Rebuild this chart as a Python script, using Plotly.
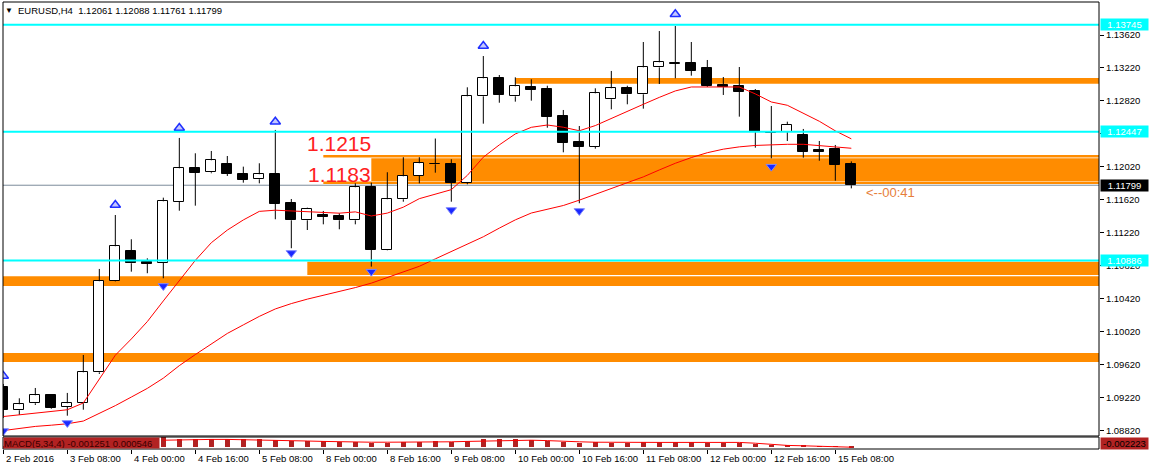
import plotly.graph_objects as go

# ---------------- data ----------------
bars = list(range(54))
tick_bars = [0, 4, 8, 12, 16, 20, 24, 28, 32, 36, 40, 44, 48, 52]
tick_text = ["2 Feb 2016", "3 Feb 08:00", "4 Feb 00:00", "4 Feb 16:00", "5 Feb 08:00",
             "8 Feb 00:00", "8 Feb 16:00", "9 Feb 08:00", "10 Feb 00:00", "10 Feb 16:00",
             "11 Feb 08:00", "12 Feb 00:00", "12 Feb 16:00", "15 Feb 08:00"]

opens = [1.09359, 1.09071, 1.09156, 1.09253, 1.09111, 1.09156, 1.09531, 1.10635, 1.11002, 1.10869,
         1.10860, 1.11599, 1.12004, 1.11956, 1.12056, 1.11932, 1.11871, 1.11932, 1.11580, 1.11374,
         1.11438, 1.11426, 1.11374, 1.11774, 1.11018, 1.11629, 1.11911, 1.12062, 1.12053, 1.11830,
         1.12877, 1.13095, 1.12877, 1.12990, 1.12965, 1.12638, 1.12323, 1.12266, 1.12841, 1.12974,
         1.12901, 1.13228, 1.13272, 1.13281, 1.13220, 1.13014, 1.13002, 1.12941, 1.12450, 1.12448,
         1.12408, 1.12226, 1.12238, 1.12061]
highs = [1.09390, 1.09216, 1.09341, 1.09265, 1.09281, 1.09741, 1.10784, 1.11438, 1.11144, 1.10913,
         1.11648, 1.12372, 1.12186, 1.12214, 1.12153, 1.12024, 1.12065, 1.12469, 1.11632, 1.11527,
         1.11487, 1.11459, 1.11822, 1.11830, 1.11956, 1.12138, 1.12138, 1.12365, 1.12113, 1.12986,
         1.13365, 1.13135, 1.13107, 1.13083, 1.13005, 1.12711, 1.12517, 1.12974, 1.13184, 1.13005,
         1.13535, 1.13668, 1.13729, 1.13535, 1.13317, 1.13111, 1.13232, 1.12965, 1.12759, 1.12569,
         1.12481, 1.12335, 1.12287, 1.12088]
lows = [1.08978, 1.09014, 1.09135, 1.09090, 1.09005, 1.09078, 1.09511, 1.10630, 1.10751, 1.10732,
        1.10671, 1.11490, 1.11551, 1.11944, 1.11911, 1.11830, 1.11822, 1.11386, 1.11035, 1.11256,
        1.11325, 1.11265, 1.11325, 1.10812, 1.11010, 1.11599, 1.11822, 1.11951, 1.11599, 1.11810,
        1.12545, 1.12799, 1.12812, 1.12824, 1.12496, 1.12198, 1.11580, 1.12242, 1.12719, 1.12780,
        1.12727, 1.13026, 1.13095, 1.13127, 1.12990, 1.12893, 1.12630, 1.12254, 1.12125, 1.12335,
        1.12133, 1.12096, 1.11854, 1.11761]
closes = [1.09075, 1.09144, 1.09253, 1.09102, 1.09156, 1.09531, 1.10635, 1.11059, 1.10853, 1.10848,
          1.11604, 1.12004, 1.11951, 1.12101, 1.11939, 1.11866, 1.11932, 1.11575, 1.11374, 1.11511,
          1.11414, 1.11374, 1.11774, 1.11018, 1.11629, 1.11907, 1.12065, 1.12053, 1.11830, 1.12877,
          1.13095, 1.12896, 1.12998, 1.12957, 1.12630, 1.12315, 1.12266, 1.12913, 1.12974, 1.12901,
          1.13228, 1.13289, 1.13281, 1.13187, 1.13005, 1.12990, 1.12933, 1.12448, 1.12432, 1.12529,
          1.12205, 1.12205, 1.12048, 1.11799]

ma_fast = [1.08995, 1.09015, 1.09037, 1.09055, 1.09077, 1.09159, 1.09448, 1.09738, 1.09935, 1.10146,
           1.10396, 1.10641, 1.10888, 1.11102, 1.11255, 1.11378, 1.11482, 1.11496, 1.11487, 1.11475,
           1.11466, 1.11460, 1.11476, 1.11426, 1.11461, 1.11533, 1.11636, 1.11688, 1.11745, 1.11918,
           1.12139, 1.12288, 1.12421, 1.12501, 1.12529, 1.12502, 1.12459, 1.12522, 1.12610, 1.12698,
           1.12780, 1.12864, 1.12942, 1.12990, 1.12990, 1.12990, 1.12990, 1.12906, 1.12808, 1.12768,
           1.12671, 1.12574, 1.12458, 1.12361]
ma_slow = [1.08825, 1.08850, 1.08875, 1.08890, 1.08907, 1.08940, 1.09031, 1.09127, 1.09231, 1.09336,
           1.09460, 1.09612, 1.09746, 1.09879, 1.10002, 1.10106, 1.10209, 1.10299, 1.10364, 1.10418,
           1.10462, 1.10506, 1.10558, 1.10612, 1.10677, 1.10746, 1.10816, 1.10906, 1.10995, 1.11084,
           1.11174, 1.11279, 1.11379, 1.11462, 1.11512, 1.11553, 1.11618, 1.11690, 1.11759, 1.11825,
           1.11900, 1.11984, 1.12065, 1.12134, 1.12193, 1.12236, 1.12264, 1.12281, 1.12290, 1.12295,
           1.12295, 1.12282, 1.12261, 1.12247]

macd_hist = [-0.0004, -0.0004, -0.0003, -0.0003, -0.0002, 0.0002, 0.0012, 0.0020, 0.0022, 0.0021,
             0.0023, 0.0019, 0.0020, 0.0020, 0.0019, 0.0018, 0.0018, 0.0017, 0.0015, 0.0014,
             0.0013, 0.0012, 0.0012, 0.0010, 0.0010, 0.0011, 0.0012, 0.0013, 0.0012, 0.0015,
             0.0018, 0.0018, 0.0018, 0.0017, 0.0015, 0.0012, 0.0010, 0.0011, 0.0009, 0.0010,
             0.0011, 0.0012, 0.0012, 0.0011, 0.0010, 0.0010, 0.0009, 0.00065, 0.0004, 0.00035,
             0.0002, 0.00012, -0.0001, -0.0003]
macd_signal = [None, None, None, None, None, None, None, None, None, None,
               0.0016, 0.0017, 0.00175, 0.0018, 0.0018, 0.00175, 0.0017, 0.0016, 0.0015, 0.0014,
               0.0013, 0.0012, 0.0012, 0.0011, 0.0011, 0.0011, 0.0011, 0.0012, 0.0012, 0.0013,
               0.0014, 0.0015, 0.0016, 0.0016, 0.0015, 0.0013, 0.0012, 0.0011, 0.00105, 0.00105,
               0.00105, 0.00105, 0.00105, 0.00105, 0.00105, 0.00105, 0.00105, 0.00085, 0.0005, 0.0003,
               0.0002, 0.00005, -0.0001, -0.00015]

fractal_up_bars = [0, 7, 11, 17, 30, 42]
fractal_up_price = [1.09487, 1.11559, 1.12493, 1.12569, 1.13487, 1.13871]
fractal_dn_bars = [0, 4, 10, 18, 23, 28, 36, 48]
fractal_dn_price = [1.08820, 1.08917, 1.10578, 1.10978, 1.10751, 1.11499, 1.11487, 1.12024]

cyan_levels = [1.13745, 1.12447, 1.10886]
zone_start = [32, 23, 19, None, None]          # None = whole chart width
zone_hi = [1.13099, 1.12125, 1.10872, 1.10695, 1.09765]
zone_lo = [1.13030, 1.11850, 1.10711, 1.10578, 1.09656]
level_lines = [1.1215, 1.1183]
level_labels = ["1.1215", "1.1183"]
level_start = 20
level_label_end = 23
bid = 1.11799
price_ticks = [1.08820, 1.09220, 1.09620, 1.10020, 1.10420, 1.10820, 1.11220,
               1.11620, 1.12020, 1.12420, 1.12820, 1.13220, 1.13620]
title_text = "EURUSD,H4  1.12061 1.12088 1.11761 1.11799"
macd_text = "MACD(5,34,4) -0.001251 0.000546"
macd_scale_label = "-0.002223"
timer_text = "<--00:41"

# ---------------- styling ----------------
FONT = "Liberation Sans, Arial, sans-serif"
ORANGE = "#FF8C00"
CYAN = "#00FFFF"
X_RANGE = [-0.02, 68.48]
Y_RANGE = [1.08759, 1.14020]
MACD_RANGE = [-0.0006, 0.0024]
MAIN_DOMAIN = [0.0291, 1.0]
MACD_DOMAIN = [0.0, 0.0268]
MIN_BODY = 0.00002

fig = go.Figure()

# wicks (above and below the body)
wx, wy = [], []
for i, o, h, l, c in zip(bars, opens, highs, lows, closes):
    top, bot = max(o, c), min(o, c)
    wx += [i, i, None, i, i, None]
    wy += [h, top, None, bot, l, None]
fig.add_trace(go.Scatter(x=wx, y=wy, mode="lines", line=dict(color="black", width=1),
                         hoverinfo="skip", showlegend=False))

# bodies
fig.add_trace(go.Bar(
    x=bars,
    y=[max(abs(c - o), MIN_BODY) for o, c in zip(opens, closes)],
    base=[min(o, c) for o, c in zip(opens, closes)],
    width=0.62,
    marker=dict(color=["white" if c >= o else "black" for o, c in zip(opens, closes)],
                line=dict(color="black", width=1)),
    hoverinfo="skip", showlegend=False))

# moving averages
for ma in (ma_fast, ma_slow):
    fig.add_trace(go.Scatter(x=bars, y=ma, mode="lines", line=dict(color="#FF0000", width=1),
                             hoverinfo="skip", showlegend=False))

# fractal arrows
fig.add_trace(go.Scatter(x=fractal_up_bars, y=fractal_up_price, mode="markers",
                         marker=dict(symbol="triangle-up", size=9, color="#c4c8ff",
                                     line=dict(color="#2030ff", width=1.5)),
                         hoverinfo="skip", showlegend=False))
fig.add_trace(go.Scatter(x=fractal_dn_bars, y=fractal_dn_price, mode="markers",
                         marker=dict(symbol="triangle-down", size=9, color="#1a28ff",
                                     line=dict(color="#8088ff", width=1)),
                         hoverinfo="skip", showlegend=False))

# MACD pane
fig.add_trace(go.Bar(x=bars, y=macd_hist, width=0.3, marker=dict(color="#B22222", line=dict(width=0)),
                     yaxis="y2", hoverinfo="skip", showlegend=False))
fig.add_trace(go.Scatter(x=bars, y=macd_signal, mode="lines", line=dict(color="#FF0000", width=1),
                         yaxis="y2", hoverinfo="skip", showlegend=False))

shapes = []
# zones
for s, hi, lo in zip(zone_start, zone_hi, zone_lo):
    if s is None:
        shapes.append(dict(type="rect", xref="paper", yref="y", x0=0, x1=1, y0=lo, y1=hi,
                           fillcolor=ORANGE, line=dict(width=0), layer="below"))
    else:
        shapes.append(dict(type="rect", xref="x", yref="y", x0=s, x1=X_RANGE[1], y0=lo, y1=hi,
                           fillcolor=ORANGE, line=dict(width=0), layer="below"))
for lv in level_lines:
    shapes.append(dict(type="line", xref="x", yref="y", x0=level_start, x1=X_RANGE[1], y0=lv, y1=lv,
                       line=dict(color=ORANGE, width=2.5), layer="below"))
# bid line
shapes.append(dict(type="line", xref="paper", yref="y", x0=0, x1=1, y0=bid, y1=bid,
                   line=dict(color="#7c8b9a", width=1), layer="below"))
# cyan levels
for lv in cyan_levels:
    shapes.append(dict(type="line", xref="paper", yref="y", x0=0, x1=1, y0=lv, y1=lv,
                       line=dict(color=CYAN, width=2), layer="above"))
# frames
shapes.append(dict(type="rect", xref="paper", yref="paper", x0=0, x1=1,
                   y0=MAIN_DOMAIN[0], y1=MAIN_DOMAIN[1], line=dict(color="black", width=1)))
shapes.append(dict(type="rect", xref="paper", yref="paper", x0=0, x1=1,
                   y0=MACD_DOMAIN[0], y1=MACD_DOMAIN[1], line=dict(color="black", width=1)))

ann = []
ann.append(dict(text="▼", xref="paper", yref="paper", x=0, y=1, xanchor="left", yanchor="middle",
                xshift=0, yshift=-8, showarrow=False, font=dict(family=FONT, size=8, color="black")))
ann.append(dict(text=title_text, xref="paper", yref="paper", x=0, y=1, xanchor="left", yanchor="middle",
                xshift=13, yshift=-8, showarrow=False, font=dict(family=FONT, size=9.5, color="black")))
for lv, lab, sh in zip(level_lines, level_labels, [12.5, 8]):
    ann.append(dict(text=lab, xref="x", yref="y", x=level_label_end, y=lv, xanchor="right",
                    yanchor="middle", yshift=sh, xshift=2, showarrow=False,
                    font=dict(family=FONT, size=21, color="#FF2020")))
ann.append(dict(text=timer_text, xref="x", yref="y", x=bars[-1], y=bid, xanchor="left", yanchor="middle",
                xshift=13, yshift=-7, showarrow=False, font=dict(family=FONT, size=13, color="#E67E3A")))
# right scale boxes
for lv in cyan_levels:
    ann.append(dict(text=f"{lv:.5f}", xref="paper", yref="y", x=1, y=lv, xanchor="left", yanchor="middle",
                    xshift=1, showarrow=False, bgcolor=CYAN, width=47, height=11, borderpad=0,
                    font=dict(family=FONT, size=9.5, color="white")))
ann.append(dict(text=f"{bid:.5f}", xref="paper", yref="y", x=1, y=bid, xanchor="left", yanchor="middle",
                xshift=1, showarrow=False, bgcolor="black", width=47, height=11, borderpad=0,
                font=dict(family=FONT, size=9.5, color="white")))
ann.append(dict(text=macd_scale_label, xref="paper", yref="paper", x=1, y=sum(MACD_DOMAIN) / 2,
                xanchor="left", yanchor="middle", xshift=1, showarrow=False, bgcolor="#B22222",
                width=47, height=11, borderpad=0, font=dict(family=FONT, size=9.5, color="black")))
# MACD label
ann.append(dict(text=macd_text, xref="paper", yref="paper", x=0, y=sum(MACD_DOMAIN) / 2,
                xanchor="left", yanchor="middle", showarrow=False, bgcolor="#B22222",
                width=155, height=10, borderpad=0, align="left",
                font=dict(family=FONT, size=9.5, color="#3a0000")))
# time labels
for b, t in zip(tick_bars, tick_text):
    ann.append(dict(text=t, xref="x", yref="paper", x=b, y=0, xanchor="left", yanchor="top",
                    xshift=1, yshift=-2, showarrow=False, font=dict(family=FONT, size=9.5, color="black")))

fig.update_layout(
    width=1149, height=470,
    margin=dict(l=3, r=50, t=2, b=21),
    paper_bgcolor="white", plot_bgcolor="white",
    barmode="overlay", bargap=0,
    showlegend=False,
    xaxis=dict(range=X_RANGE, domain=[0, 1], anchor="y2", showgrid=False, zeroline=False,
               tickmode="array", tickvals=tick_bars, ticks="outside", ticklen=4, tickcolor="black",
               showticklabels=False, showline=False, fixedrange=True),
    yaxis=dict(domain=MAIN_DOMAIN, range=Y_RANGE, side="right", anchor="x", showgrid=False, zeroline=False,
               tickmode="array", tickvals=price_ticks, ticktext=[f"{p:.5f}" for p in price_ticks],
               ticks="outside", ticklen=4, tickcolor="black", showline=False,
               tickfont=dict(family=FONT, size=9.5, color="black")),
    yaxis2=dict(domain=MACD_DOMAIN, range=MACD_RANGE, side="right", anchor="x", showgrid=False,
                zeroline=False, showticklabels=False, ticks=""),
    shapes=shapes,
    annotations=ann,
)

fig.write_html("out.html", config={"displayModeBar": False},
               post_script="document.body.style.margin='0';document.body.style.overflow='hidden';")
